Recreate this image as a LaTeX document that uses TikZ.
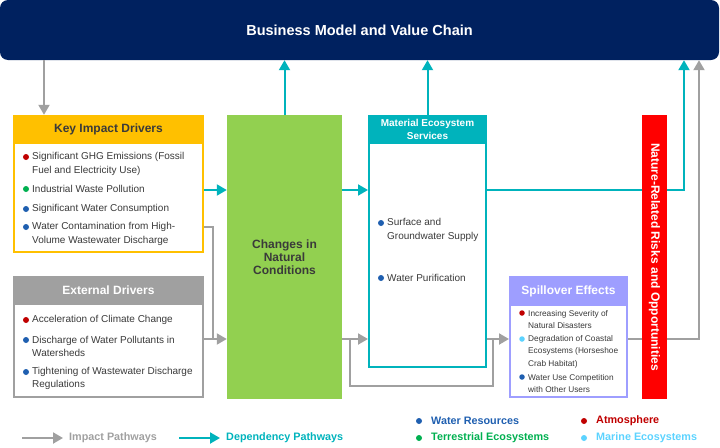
\documentclass[tikz,border=0pt]{standalone}
\usepackage{fontspec}
\setmainfont{Liberation Sans}
\usepackage{xcolor}
\usepackage{tikz}
\usetikzlibrary{arrows.meta, positioning}
\definecolor{bm_navy}{HTML}{00215F}
\definecolor{ki_yellow}{HTML}{FFC000}
\definecolor{ed_gray}{HTML}{A0A0A0}
\definecolor{nc_green}{HTML}{92D050}
\definecolor{dep_teal}{HTML}{00B3BC}
\definecolor{sp_lav}{HTML}{9E9EFF}
\definecolor{risk_red}{HTML}{FF0000}
\definecolor{txt_dark}{HTML}{3A3A3A}
\definecolor{res_blue}{HTML}{1F5FB0}
\definecolor{res_green}{HTML}{00B050}
\definecolor{res_red}{HTML}{C00000}
\definecolor{res_sky}{HTML}{5CD3FF}

\begin{document}
\begin{tikzpicture}[
  x=1pt, y=-1pt,
  body/.style = {draw=#1, line width=2pt, fill=white, inner sep=0},
  head/.style = {fill=#1, inner sep=0, align=center},
  dot/.style = {circle, fill=#1, inner sep=0, minimum size=6pt},
  sdot/.style = {circle, fill=#1, inner sep=0, minimum size=5.5pt},
  item/.style = {anchor=west, align=left, inner sep=0, text=txt_dark, font=\fontsize{10}{14}\selectfont},
  sitem/.style = {anchor=west, align=left, inner sep=0, text=txt_dark, font=\fontsize{8.3}{12.5}\selectfont},
  imp/.style = {draw=ed_gray, line width=2pt},
  dep/.style = {draw=dep_teal, line width=2pt},
  tip/.style = {-{Triangle[length=10pt, width=11pt]}},
]
\tikzstyle{every node}=[font=\bfseries\fontsize{12}{13}\selectfont]
\useasboundingbox (0,0) rectangle (720,447);

% Define boxes
\node[fill=bm_navy, rounded corners=8pt, minimum width=719pt, minimum height=60pt, text=white, font=\bfseries\fontsize{14.5}{16}\selectfont] (bmvc) at (359.5,30) {Business Model and Value Chain};

\node[body=ki_yellow, minimum width=189pt, minimum height=136pt] (key) at (108.5,184) {};
\node[head=ki_yellow, minimum width=191pt, minimum height=29pt, text=txt_dark] (keyhead) at (108.5,129.5) {Key Impact Drivers};

\node[body=ed_gray, minimum width=189pt, minimum height=120pt] (ext) at (108.5,337) {};
\node[head=ed_gray, minimum width=191pt, minimum height=29pt, text=white] (exthead) at (108.5,290.5) {External Drivers};

\node[fill=nc_green, minimum width=115pt, minimum height=284pt, align=center, text=txt_dark] (chg) at (284.5,257) {Changes in\\Natural\\Conditions};

\node[body=dep_teal, minimum width=117pt, minimum height=251pt] (mes) at (427.5,241.5) {};
\node[head=dep_teal, minimum width=119pt, minimum height=29pt, text=white, font=\bfseries\fontsize{10}{13}\selectfont] (meshead) at (427.5,129.5) {Material Ecosystem\\Services};

\node[body=sp_lav, minimum width=117pt, minimum height=120pt] (spill) at (568.5,337) {};
\node[head=sp_lav, minimum width=119pt, minimum height=30pt, text=white] (spillhead) at (568.5,291) {Spillover Effects};

% Items
\node[dot=res_red] (k1d) at (26,157) {};
\node[item] (k1) at (32,164) {Significant GHG Emissions (Fossil\\Fuel and Electricity Use)};
\node[dot=res_green] (k2d) at (26,189) {};
\node[item] (k2) at (32,189) {Industrial Waste Pollution};
\node[dot=res_blue] (k3d) at (26,209) {};
\node[item] (k3) at (32,209) {Significant Water Consumption};
\node[dot=res_blue] (k4d) at (26,227) {};
\node[item] (k4) at (32,233.5) {Water Contamination from High-\\Volume Wastewater Discharge};

\node[dot=res_red] (e1d) at (26,320) {};
\node[item] (e1) at (32,320) {Acceleration of Climate Change};
\node[dot=res_blue] (e2d) at (26,340) {};
\node[item, font=\fontsize{10}{13}\selectfont] (e2) at (32,346.5) {Discharge of Water Pollutants in\\Watersheds};
\node[dot=res_blue] (e3d) at (26,372) {};
\node[item, font=\fontsize{10}{13}\selectfont] (e3) at (32,378.5) {Tightening of Wastewater Discharge\\Regulations};

\node[dot=res_blue] (m1d) at (381,223) {};
\node[item] (m1) at (387,230) {Surface and\\Groundwater Supply};
\node[dot=res_blue] (m2d) at (381,278) {};
\node[item] (m2) at (387,278) {Water Purification};

\node[sdot=res_red] (s1d) at (522,313) {};
\node[sitem] (s1) at (528,319.5) {Increasing Severity of\\Natural Disasters};
\node[sdot=res_sky] (s2d) at (522,339) {};
\node[sitem] (s2) at (528,351.5) {Degradation of Coastal\\Ecosystems (Horseshoe\\Crab Habitat)};
\node[sdot=res_blue] (s3d) at (522,377) {};
\node[sitem] (s3) at (528,383.5) {Water Use Competition\\with Other Users};

% Draw pathways
\coordinate (depy) at (0,190);
\coordinate (impy) at (0,339);
\coordinate (impx0) at (44,0);
\coordinate (impx1) at (213,0);
\coordinate (impx2) at (350,0);
\coordinate (impx3) at (493,0);
\coordinate (impx4) at (699,0);
\coordinate (depx) at (684,0);
\coordinate (loopy) at (0,386);

\draw[imp, tip] (impx0 |- bmvc.south) -- (impx0 |- keyhead.north);
\draw[dep, tip] (chg.north) -- (chg.north |- bmvc.south);
\draw[dep, tip] (meshead.north) -- (meshead.north |- bmvc.south);
\draw[dep, tip] (key.east |- depy) -- (chg.west |- depy);
\draw[dep, tip] (chg.east |- depy) -- (mes.west |- depy);
\draw[dep, tip] (mes.east |- depy) -| (depx |- bmvc.south);

\draw[imp] ([yshift=-43pt]key.east) -| (impx1 |- impy);
\draw[imp, tip] (ext.east |- impy) -- (chg.west |- impy);
\draw[imp, tip] (chg.east |- impy) -- (mes.west |- impy);
\draw[imp] (impx2 |- impy) -- (impx2 |- loopy) -- (impx3 |- loopy) -- (impx3 |- impy);
\draw[imp, tip] (mes.east |- impy) -- (spill.west |- impy);
\draw[imp, tip] (spill.east |- impy) -| (impx4 |- bmvc.south);

% Risks box on top of the lines
\node[fill=risk_red, minimum width=25pt, minimum height=284pt, inner sep=0] (risk) at (654.5,257) {};
\node[rotate=-90, text=white] (risklbl) at (risk.center) {Nature-Related Risks and Opportunities};

% Legend
\tikzstyle{every node}=[font=\bfseries\fontsize{10.8}{12}\selectfont, anchor=west, inner sep=0]
\coordinate (lgi0) at (22,438);
\coordinate (lgi1) at (63,438);
\coordinate (lgd0) at (179,438);
\coordinate (lgd1) at (220,438);
\draw[imp, tip] (lgi0) -- (lgi1);
\node[text=ed_gray] (lgimp) at (69,438) {Impact Pathways};
\draw[dep, tip] (lgd0) -- (lgd1);
\node[text=dep_teal] (lgdep) at (226,438) {Dependency Pathways};

\node[dot=res_blue, anchor=center] (lwd) at (419,421) {};
\node[text=res_blue] (lw) at (431,421) {Water Resources};
\node[dot=res_green, anchor=center] (ltd) at (419,438) {};
\node[text=res_green] (lt) at (431,438) {Terrestrial Ecosystems};
\node[dot=res_red, anchor=center] (lad) at (584,421) {};
\node[text=res_red] (la) at (596,421) {Atmosphere};
\node[dot=res_sky, anchor=center] (lmd) at (584,438) {};
\node[text=res_sky] (lm) at (596,438) {Marine Ecosystems};
\end{tikzpicture}
\end{document}
